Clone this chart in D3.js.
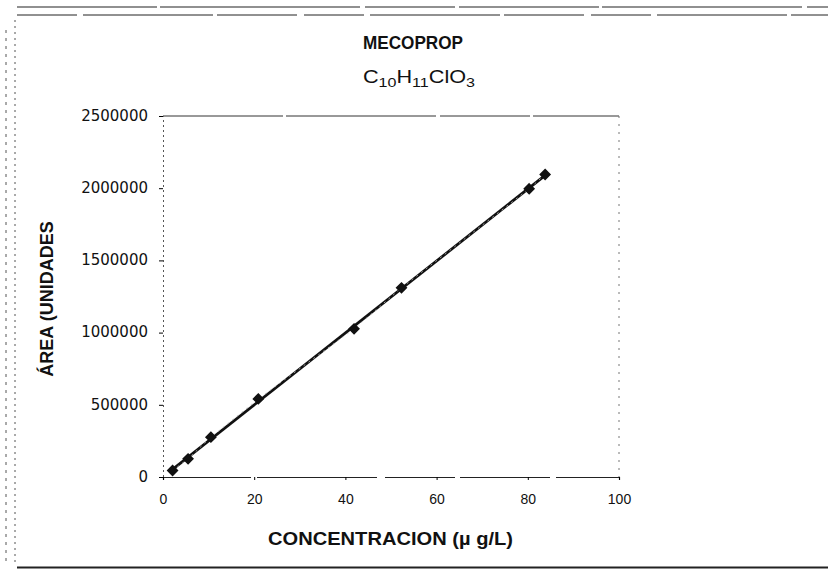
<!DOCTYPE html>
<html>
<head>
<meta charset="utf-8">
<script src="https://cdn.jsdelivr.net/npm/d3@7"></script>
<style>
	body { margin: 0; background: #fff; }
	text { font-family: Arial, "Liberation Sans", sans-serif; fill: #111; }
	.ytick text { font-family: "DejaVu Sans", sans-serif; font-size: 15px; }
	.xtick text { font-size: 14px; }
</style>
</head>
<body>
<svg id="plot" width="828" height="570"></svg>
<script>
// concentration (µg/L) and peak area
const CONC = [2.1, 5.5, 10.5, 20.9, 41.9, 52.3, 80.3, 83.8];
const AREA = [45000, 126000, 276000, 541000, 1026000, 1310000, 1996000, 2095000];
const X_TICKS = [0, 20, 40, 60, 80, 100];
const Y_TICKS = [0, 500000, 1000000, 1500000, 2000000, 2500000];

const MARGIN = { top: 116, right: 209, bottom: 93, left: 163 };
const W = 828, H = 570;

const svg = d3.select('#plot');

// scanned page frame
svg.append('line').attr('x1', 17).attr('x2', 828).attr('y1', 7).attr('y2', 7)
	.attr('stroke', '#222').attr('stroke-width', 1.2).attr('stroke-dasharray', '140 3 200 5 90 4');
svg.append('line').attr('x1', 17).attr('x2', 828).attr('y1', 15).attr('y2', 15)
	.attr('stroke', '#222').attr('stroke-width', 1).attr('stroke-dasharray', '60 6 130 4 80 7');
svg.append('line').attr('x1', 6).attr('x2', 6).attr('y1', 30).attr('y2', 566)
	.attr('stroke', '#555').attr('stroke-width', 1).attr('stroke-dasharray', '3 5');
svg.append('line').attr('x1', 15).attr('x2', 15).attr('y1', 20).attr('y2', 566)
	.attr('stroke', '#555').attr('stroke-width', 1).attr('stroke-dasharray', '2 4');
svg.append('line').attr('x1', 17).attr('x2', 828).attr('y1', 567.5).attr('y2', 567.5)
	.attr('stroke', '#222').attr('stroke-width', 2);

const x = d3.scaleLinear().domain([0, 100]).range([MARGIN.left, W - MARGIN.right]);
const y = d3.scaleLinear().domain([0, 2500000]).range([H - MARGIN.bottom, MARGIN.top]);

// plot area box: dark top, faint dotted right
svg.append('line').attr('x1', x(0)).attr('x2', x(100)).attr('y1', y(2500000)).attr('y2', y(2500000))
	.attr('stroke', '#333').attr('stroke-width', 1).attr('stroke-dasharray', '120 3 150 4 90 3');
svg.append('line').attr('x1', x(100)).attr('x2', x(100)).attr('y1', y(2500000)).attr('y2', y(0))
	.attr('stroke', '#777').attr('stroke-width', 1).attr('stroke-dasharray', '2 6');

const axisX = svg.append('g')
	.attr('class', 'xtick')
	.attr('transform', `translate(0,${y(0)})`)
	.call(d3.axisBottom(x).tickValues(X_TICKS).tickSize(3).tickPadding(14).tickFormat(d3.format('d')));
axisX.select('.domain').attr('stroke', '#222').attr('stroke-width', 1.2).attr('stroke-dasharray', '90 6 120 8 70 5');

const axisY = svg.append('g')
	.attr('class', 'ytick')
	.attr('transform', `translate(${x(0)},0)`)
	.call(d3.axisLeft(y).tickValues(Y_TICKS).tickSize(4).tickPadding(11).tickFormat(d3.format('d')));
axisY.select('.domain').attr('stroke', '#555').attr('stroke-width', 1).attr('stroke-dasharray', '2 3');
axisY.selectAll('text').attr('dy', '0.28em');

// least squares trend line
const mx = d3.mean(CONC), my = d3.mean(AREA);
const slope = d3.sum(CONC, (d, i) => (d - mx) * (AREA[i] - my)) / d3.sum(CONC, d => (d - mx) * (d - mx));
const icpt = my - slope * mx;
const ext = d3.extent(CONC);
svg.append('path')
	.datum(ext)
	.attr('d', d3.line().x(d => x(d)).y(d => y(icpt + slope * d)))
	.attr('stroke', '#111').attr('stroke-width', 2.8).attr('fill', 'none');

svg.append('path')
	.datum(CONC)
	.attr('d', d3.line().x(d => x(d)).y((d, i) => y(AREA[i])))
	.attr('stroke', '#bbb').attr('stroke-width', 0.8).attr('stroke-dasharray', '2 4').attr('fill', 'none');

svg.selectAll('.pt')
	.data(CONC)
	.enter()
	.append('path')
	.attr('class', 'pt')
	.attr('transform', (d, i) => `translate(${x(d)},${y(AREA[i])})`)
	.attr('d', d3.symbol().type(d3.symbolDiamond2).size(60))
	.attr('fill', '#111').attr('stroke', '#111').attr('stroke-width', 1.5);

// titles
svg.append('text').attr('x', 363).attr('y', 49).attr('text-anchor', 'start')
	.attr('font-size', 17.5).attr('font-weight', 'bold').attr('textLength', 100)
	.attr('lengthAdjust', 'spacingAndGlyphs').text('MECOPROP');

const formula = svg.append('text').attr('x', 363).attr('y', 83).attr('text-anchor', 'start')
	.attr('font-size', 17.5).attr('textLength', 112).attr('lengthAdjust', 'spacingAndGlyphs');
formula.append('tspan').text('C');
formula.append('tspan').attr('font-size', 13).attr('dy', 4).text('10');
formula.append('tspan').attr('dy', -4).text('H');
formula.append('tspan').attr('font-size', 13).attr('dy', 4).text('11');
formula.append('tspan').attr('dy', -4).text('ClO');
formula.append('tspan').attr('font-size', 13).attr('dy', 4).text('3');

svg.append('text').attr('x', 268).attr('y', 545).attr('text-anchor', 'start')
	.attr('font-size', 17.5).attr('font-weight', 'bold').attr('textLength', 245)
	.attr('lengthAdjust', 'spacingAndGlyphs').text('CONCENTRACION (µ g/L)');

svg.append('text')
	.attr('transform', 'translate(53,299) rotate(-90)')
	.attr('text-anchor', 'middle')
	.attr('font-size', 18).attr('font-weight', 'bold').text('ÁREA (UNIDADES');
</script>
</body>
</html>
